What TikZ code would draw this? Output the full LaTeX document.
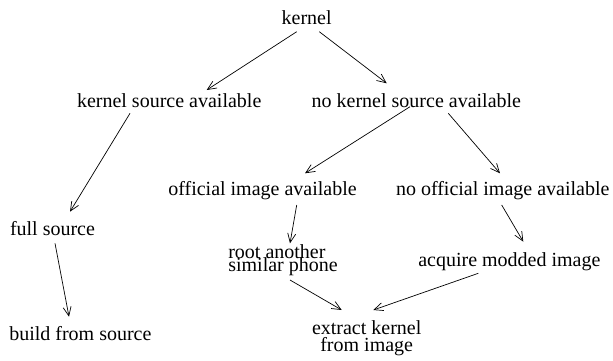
\documentclass[tikz,border=0pt]{standalone}
\usepackage{fontspec}
\setmainfont{Liberation Serif}
\usetikzlibrary{arrows.meta,calc}
\tikzset{
  lbl/.style={inner sep=0pt, outer sep=0pt, anchor=base west, font=\fontsize{20}{24}\selectfont},
  arr/.style={line width=0.7pt, -{Straight Barb[length=9pt,width=8pt,line width=0.7pt]}}
}
\begin{document}
\begin{tikzpicture}[x=1pt,y=-1pt]
\useasboundingbox (0,0) rectangle (613,360);
\node[lbl] (k) at (281.7,24) {kernel};
\node[lbl] (ksa) at (77,107) {kernel source available};
\node[lbl] (nksa) at (311.7,107) {no kernel source available};
\node[lbl] (oia) at (168.3,195) {official image available};
\node[lbl] (noia) at (396,195) {no official image available};
\node[lbl] (fs) at (10,235) {full source};
\node[lbl] (bfs) at (9.3,340) {build from source};
\node[lbl, align=left, font={\fontsize{20}{13.5}\selectfont\lineskiplimit=-30pt}] (root) at (228.3,271.5) {root another\\similar phone};
\node[lbl] (acq) at (418.3,266.7) {acquire modded image};
\node[lbl, anchor=base, align=center, font={\fontsize{20}{17}\selectfont\lineskiplimit=-30pt}] (ext) at (366.7,351) {extract kernel\\from image};

\draw[arr] ($(k.base west)+(15,7.7)$) -- ($(ksa.base west)+(129.7,-17)$);
\draw[arr] ($(k.base west)+(37.6,7.7)$) -- ($(nksa.base west)+(75,-23.7)$);
\draw[arr] ($(ksa.base west)+(53,6.3)$) -- ($(fs.base west)+(60,-23.3)$);
\draw[arr] ($(nksa.base west)+(98.3,-0.3)$) -- ($(oia.base west)+(136.7,-21.7)$);
\draw[arr] ($(nksa.base west)+(136.6,6.3)$) -- ($(noia.base west)+(104,-21.7)$);
\draw[arr] ($(oia.base west)+(128.4,10)$) -- ($(root.base west)+(61.7,-28.2)$);
\draw[arr] ($(noia.base west)+(105.7,10)$) -- ($(acq.base west)+(105,-25)$);
\draw[arr] ($(fs.base west)+(45,8.3)$) -- ($(bfs.base west)+(59.7,-23.3)$);
\draw[arr] ($(root.base west)+(61.7,8.5)$) -- ($(ext.base)+(-25,-41)$);
\draw[arr] ($(acq.base west)+(60,6.6)$) -- ($(ext.base)+(6.6,-41)$);
\end{tikzpicture}
\end{document}
